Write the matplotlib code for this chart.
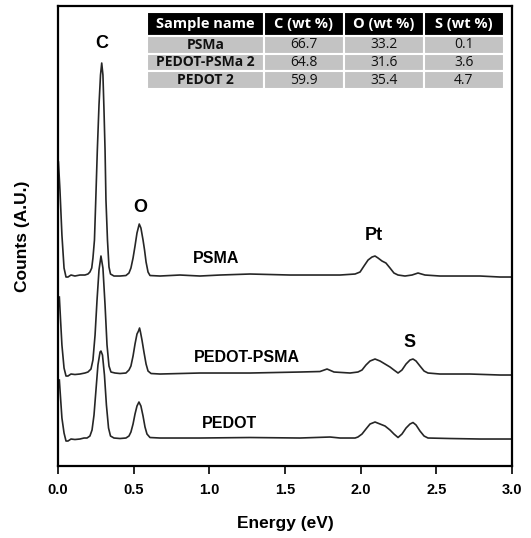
import matplotlib

matplotlib.use("Agg")
import matplotlib.pyplot as plt

plt.rcParams["font.family"] = ["Liberation Sans", "DejaVu Sans"]

# EDS spectra (energy in eV, counts in arbitrary units)
E_PSMA = [0.003, 0.013, 0.026, 0.040, 0.053, 0.066, 0.086, 0.112, 0.145, 0.178,
          0.198, 0.211, 0.223, 0.231, 0.241, 0.249, 0.260, 0.271, 0.281, 0.289,
          0.297, 0.304, 0.311, 0.317, 0.327, 0.337, 0.347, 0.370, 0.410, 0.449,
          0.469, 0.482, 0.496, 0.509, 0.522, 0.537, 0.548, 0.562, 0.572, 0.582,
          0.595, 0.608, 0.674, 0.806, 0.938, 1.071, 1.269, 1.401, 1.533, 1.731,
          1.864, 1.963, 1.996, 2.022, 2.049, 2.075, 2.095, 2.115, 2.141, 2.167,
          2.194, 2.220, 2.247, 2.293, 2.339, 2.379, 2.425, 2.524, 2.656, 2.789,
          2.921, 3.000]
C_PSMA = [304, 276, 231, 198, 189, 189, 191, 190, 191, 191,
          192, 194, 198, 208, 226, 263, 316, 361, 391, 403,
          391, 356, 316, 266, 226, 199, 192, 190, 190, 190.5,
          193, 198, 208, 220, 233, 242, 238, 226, 216, 204,
          194, 190.5, 190, 191, 190, 191, 192, 191.5, 191, 191,
          191, 192, 194, 200, 206, 209, 210, 208, 205, 203,
          198, 193, 191, 190, 191, 193, 191, 190, 190, 190,
          189, 189]

E_MIX = [0.009, 0.017, 0.026, 0.040, 0.053, 0.066, 0.086, 0.112, 0.145, 0.178,
         0.198, 0.218, 0.231, 0.245, 0.258, 0.271, 0.284, 0.297, 0.311, 0.324,
         0.337, 0.350, 0.377, 0.410, 0.449, 0.469, 0.482, 0.496, 0.509, 0.522,
         0.532, 0.539, 0.545, 0.555, 0.568, 0.582, 0.595, 0.615, 0.674, 0.938,
         1.269, 1.599, 1.731, 1.778, 1.824, 1.930, 1.982, 2.009, 2.035, 2.062,
         2.095, 2.128, 2.161, 2.194, 2.220, 2.247, 2.273, 2.300, 2.326, 2.346,
         2.366, 2.392, 2.419, 2.445, 2.524, 2.722, 2.921, 3.000]
C_MIX = [169, 146, 121, 98, 90, 90, 92, 91.5, 92, 93,
         94, 97, 106, 131, 166, 196, 210, 198, 161, 121,
         100, 94, 93, 92.5, 93, 96, 100, 110, 122, 132,
         135, 138, 134, 126, 114, 102, 95, 92.5, 92, 93,
         93, 94, 94.5, 97, 94, 93, 94, 96, 101, 105,
         107, 105, 102, 99, 96, 93, 96, 102, 106, 107,
         105, 100, 95, 93, 92, 92, 91, 91]

E_PEDOT = [0.009, 0.017, 0.026, 0.040, 0.053, 0.066, 0.086, 0.112, 0.145, 0.172,
           0.192, 0.211, 0.225, 0.238, 0.251, 0.264, 0.278, 0.284, 0.294, 0.307,
           0.320, 0.334, 0.347, 0.370, 0.410, 0.449, 0.469, 0.482, 0.496, 0.509,
           0.522, 0.535, 0.548, 0.562, 0.575, 0.588, 0.608, 0.674, 0.938, 1.269,
           1.599, 1.798, 1.864, 1.963, 1.982, 2.009, 2.035, 2.062, 2.095, 2.128,
           2.161, 2.194, 2.220, 2.247, 2.273, 2.300, 2.326, 2.346, 2.366, 2.392,
           2.419, 2.445, 2.590, 2.789, 3.000]
C_PEDOT = [86, 68, 48, 33, 25, 25, 27, 26.5, 27, 28,
           28, 30, 36, 51, 76, 101, 114, 115, 111, 91,
           61, 38, 30, 28, 27.5, 28, 30, 34, 42, 52,
           60, 64, 60, 50, 39, 32, 28.5, 28, 28, 28.5,
           28, 29, 28, 28, 29, 32, 37, 42, 44, 42,
           40, 36, 32, 28.5, 32, 38, 42, 43.5, 41, 35,
           30, 28, 27.5, 27, 27]

# peak / sample labels: (text, energy, counts)
PEAK_LABELS = [("C", 0.291, 423), ("O", 0.542, 259), ("Pt", 2.088, 231), ("S", 2.326, 124)]
SAMPLE_LABELS = [("PSMA", 0.892, 208), ("PEDOT-PSMA", 0.899, 109), ("PEDOT", 0.952, 43)]

# composition table
TABLE_COLS = ["Sample name", "C (wt %)", "O (wt %)", "S (wt %)"]
TABLE_SAMPLES = ["PSMa", "PEDOT-PSMa 2", "PEDOT 2"]
WT_C = [66.7, 64.8, 59.9]
WT_O = [33.2, 31.6, 35.4]
WT_S = [0.1, 3.6, 4.7]

fig = plt.figure(figsize=(5.31, 5.38), dpi=100)
ax = fig.add_axes([0.1092, 0.1338, 0.855, 0.855])

for e, c in [(E_PSMA, C_PSMA), (E_MIX, C_MIX), (E_PEDOT, C_PEDOT)]:
    ax.plot(e, c, color="#262626", lw=1.2)

for txt, x, y in PEAK_LABELS:
    ax.text(x, y, txt, fontsize=13, fontweight="bold", ha="center", va="center")
for txt, x, y in SAMPLE_LABELS:
    ax.text(x, y, txt, fontsize=11.5, fontweight="bold", ha="left", va="center")

ax.set_xlim(0, 3.0)
ax.set_ylim(0, 460)
ax.set_xticks([0.0, 0.5, 1.0, 1.5, 2.0, 2.5, 3.0])
ax.set_xticklabels([f"{t:.1f}" for t in ax.get_xticks()], fontsize=10.5, fontweight="bold")
ax.set_yticks([])
ax.tick_params(axis="x", direction="out", length=6, width=1.2, pad=6)
for s in ax.spines.values():
    s.set_linewidth(1.6)
ax.set_xlabel("Energy (eV)", fontsize=12.5, fontweight="bold", labelpad=14)
ax.set_ylabel("Counts (A.U.)", fontsize=12.5, fontweight="bold", labelpad=20)

rows = [[n, f"{c:.1f}", f"{o:.1f}", f"{s:.1f}"]
        for n, c, o, s in zip(TABLE_SAMPLES, WT_C, WT_O, WT_S)]
tab = ax.table(cellText=rows, colLabels=TABLE_COLS, colWidths=[117, 80, 80, 80],
               cellLoc="center", bbox=[0.196, 0.8196, 0.786, 0.168])
tab.auto_set_font_size(False)
for (r, c), cell in tab.get_celld().items():
    cell.set_edgecolor("white")
    cell.set_linewidth(1.5)
    t = cell.get_text()
    t.set_fontfamily(["Open Sans", "DejaVu Sans"])
    if r == 0:
        cell.set_facecolor("black")
        cell.set_height(24)
        t.set_color("white")
        t.set_fontweight("bold")
        t.set_fontsize(10.5)
    else:
        cell.set_facecolor("#c3c3c3")
        cell.set_height(17.7)
        t.set_fontsize(10)
        t.set_color("#111111")
        if c == 0:
            t.set_fontweight("bold")

fig.savefig("out.png", dpi=100)
